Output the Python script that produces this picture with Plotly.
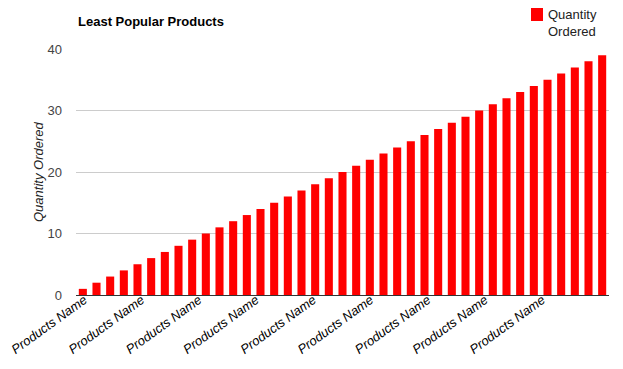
import plotly.graph_objects as go

categories = ["Products Name"] * 39
quantities = list(range(1, 40))
series_name = "Quantity<br>Ordered"

x_idx = list(range(len(categories)))
tickvals = [i * 4.19 + 0.1 for i in range(9)]
ticktext = [categories[0]] * len(tickvals)

# The page body has an 8px margin; figure is sized to fit the window.
W, H = 615, 361
L, R, T, B = 68, 14, 41, 74
PW, PH = W - L - R, H - T - B

def px_x(px):
    return (px - L) / PW

def px_y(py):
    return (H - B - py) / PH

fig = go.Figure()
fig.add_trace(go.Bar(
    x=x_idx, y=quantities, name=series_name,
    marker=dict(color="#ff0000", line=dict(width=0)),
    showlegend=False,
))

fig.update_layout(
    width=W, height=H,
    margin=dict(l=L, r=R, t=T, b=B, autoexpand=False),
    plot_bgcolor="white", paper_bgcolor="white",
    font=dict(family="Liberation Sans, Arial, sans-serif", size=13, color="#222"),
    bargap=0.41,
    showlegend=False,
    xaxis=dict(range=[-0.5, 38.5], tickvals=tickvals, ticktext=ticktext,
               tickangle=-36, tickfont=dict(size=13, color="#000", style="italic"),
               ticklabeloverflow="allow", automargin=False, ticklabelstandoff=-6,
               showgrid=False, showline=False, zeroline=False, ticks=""),
    yaxis=dict(range=[0, 40], tickvals=[0, 10, 20, 30, 40], automargin=False,
               gridcolor="#cccccc", gridwidth=1, zeroline=True, zerolinecolor="#333",
               zerolinewidth=1, showline=False, ticks="", ticklabelstandoff=13,
               tickfont=dict(size=13, color="#444")),
)

fig.add_annotation(text="<b>Least Popular Products</b>", xref="paper", yref="paper",
                   x=0, y=1, yshift=28, xanchor="left", yanchor="middle",
                   showarrow=False, font=dict(size=13, color="#000"))
fig.add_annotation(text="<i>Quantity Ordered</i>", xref="paper", yref="paper",
                   x=0, xshift=-38, y=0.5, textangle=-90, xanchor="center", yanchor="middle",
                   showarrow=False, font=dict(size=13, color="#222"))

# legend (drawn manually to match spacing)
fig.add_shape(type="rect", xref="paper", yref="paper",
              x0=px_x(523), x1=px_x(535), y0=px_y(13), y1=px_y(0),
              fillcolor="#ff0000", line=dict(width=0))
fig.add_annotation(text=series_name, xref="paper", yref="paper",
                   x=px_x(538), y=px_y(14.5), xanchor="left", yanchor="middle",
                   align="left", showarrow=False, font=dict(size=13, color="#222"))

fig.write_html("out.html")
